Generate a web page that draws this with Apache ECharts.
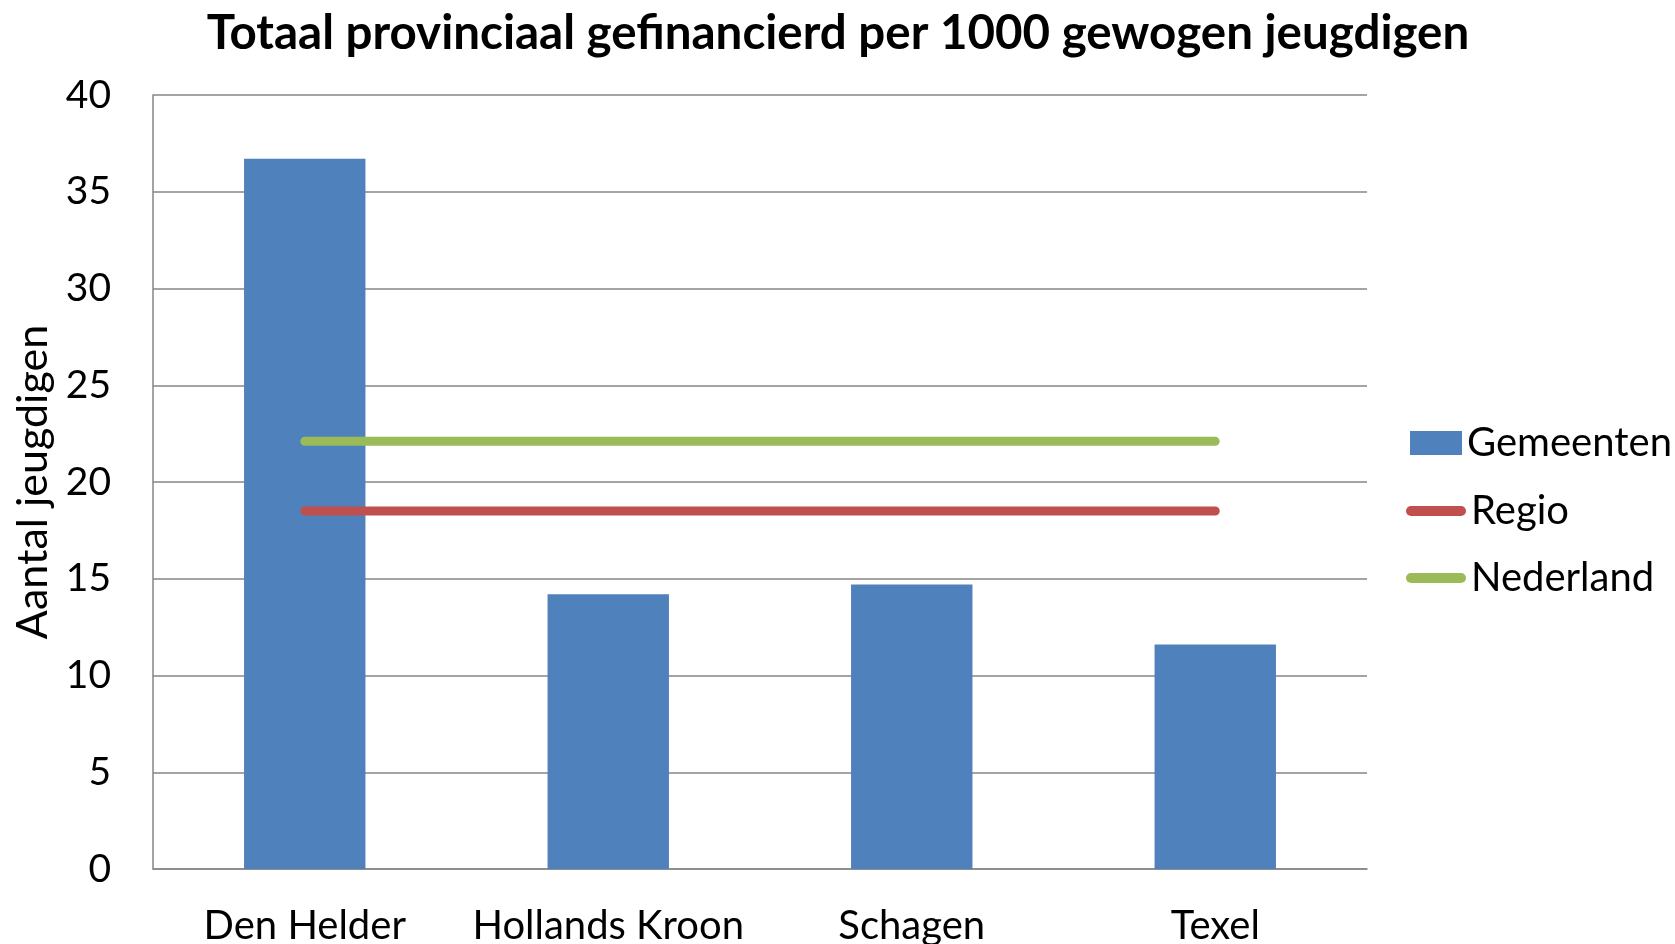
<!DOCTYPE html>
<html>
<head>
<meta charset="utf-8">
<script src="https://cdn.jsdelivr.net/npm/echarts@6/dist/echarts.min.js"></script>
<style>
  html, body { margin: 0; padding: 0; background: #fff; }
  #chart { width: 1675px; height: 944px; }
</style>
</head>
<body>
<div id="chart"></div>
<script>
const categories = ['Den Helder', 'Hollands Kroon', 'Schagen', 'Texel'];
const gemeenten = [36.7, 14.2, 14.7, 11.6];
const regio = [18.5, 18.5, 18.5, 18.5];
const nederland = [22.1, 22.1, 22.1, 22.1];

const font = 'Lato';
const gridColor = '#868686';
const capsule = 'path://M5,0H55A5,5,0,0,1,55,10H5A5,5,0,0,1,5,0Z';

const chart = echarts.init(document.getElementById('chart'), null, { renderer: 'canvas' });
chart.setOption({
  animation: false,
  title: {
    text: 'Totaal provinciaal gefinancierd per 1000 gewogen jeugdigen',
    left: 833, top: 5, textAlign: 'center',
    textStyle: { fontFamily: font, fontWeight: 'bold', fontSize: 47.5, color: '#000' },
  },
  legend: [
    {
      orient: 'vertical',
      left: 1405, top: 418,
      itemWidth: 52, itemHeight: 24,
      textStyle: { fontFamily: font, fontSize: 40, color: '#000' },
      data: [{ name: 'Gemeenten', icon: 'rect' }],
    },
    {
      orient: 'vertical',
      left: 1401, top: 486,
      itemWidth: 60, itemHeight: 10, itemGap: 27, itemTextGap: 4,
      textStyle: { fontFamily: font, fontSize: 40, color: '#000' },
      data: [{ name: 'Regio', icon: capsule }, { name: 'Nederland', icon: capsule }],
    },
  ],
  grid: { left: 153, right: 308, top: 95, bottom: 75, outerBoundsMode: 'none' },
  xAxis: {
    type: 'category',
    data: categories,
    axisTick: { show: false },
    axisLine: { lineStyle: { color: gridColor, width: 1.5 } },
    axisLabel: { interval: 0, margin: 37, fontFamily: font, fontSize: 40, color: '#000' },
  },
  yAxis: {
    type: 'value',
    min: 0, max: 40, interval: 5,
    name: 'Aantal jeugdigen',
    nameLocation: 'middle',
    nameRotate: 90,
    nameGap: 96,
    nameTextStyle: { fontFamily: font, fontSize: 43, color: '#000' },
    axisLine: { show: true, lineStyle: { color: gridColor, width: 1.5 } },
    axisTick: { show: false },
    axisLabel: { margin: 42, fontFamily: font, fontSize: 39, color: '#000' },
    splitLine: { lineStyle: { color: gridColor, width: 1.5 } },
  },
  series: [
    {
      name: 'Gemeenten', type: 'bar', data: gemeenten, barWidth: '40%',
      itemStyle: { color: '#4F81BD' },
    },
    {
      name: 'Regio', type: 'line', data: regio, symbol: 'none',
      lineStyle: { color: '#C0504D', width: 9, cap: 'round' },
      itemStyle: { color: '#C0504D' },
    },
    {
      name: 'Nederland', type: 'line', data: nederland, symbol: 'none',
      lineStyle: { color: '#9BBB59', width: 9, cap: 'round' },
      itemStyle: { color: '#9BBB59' },
    },
  ],
});
</script>
</body>
</html>
